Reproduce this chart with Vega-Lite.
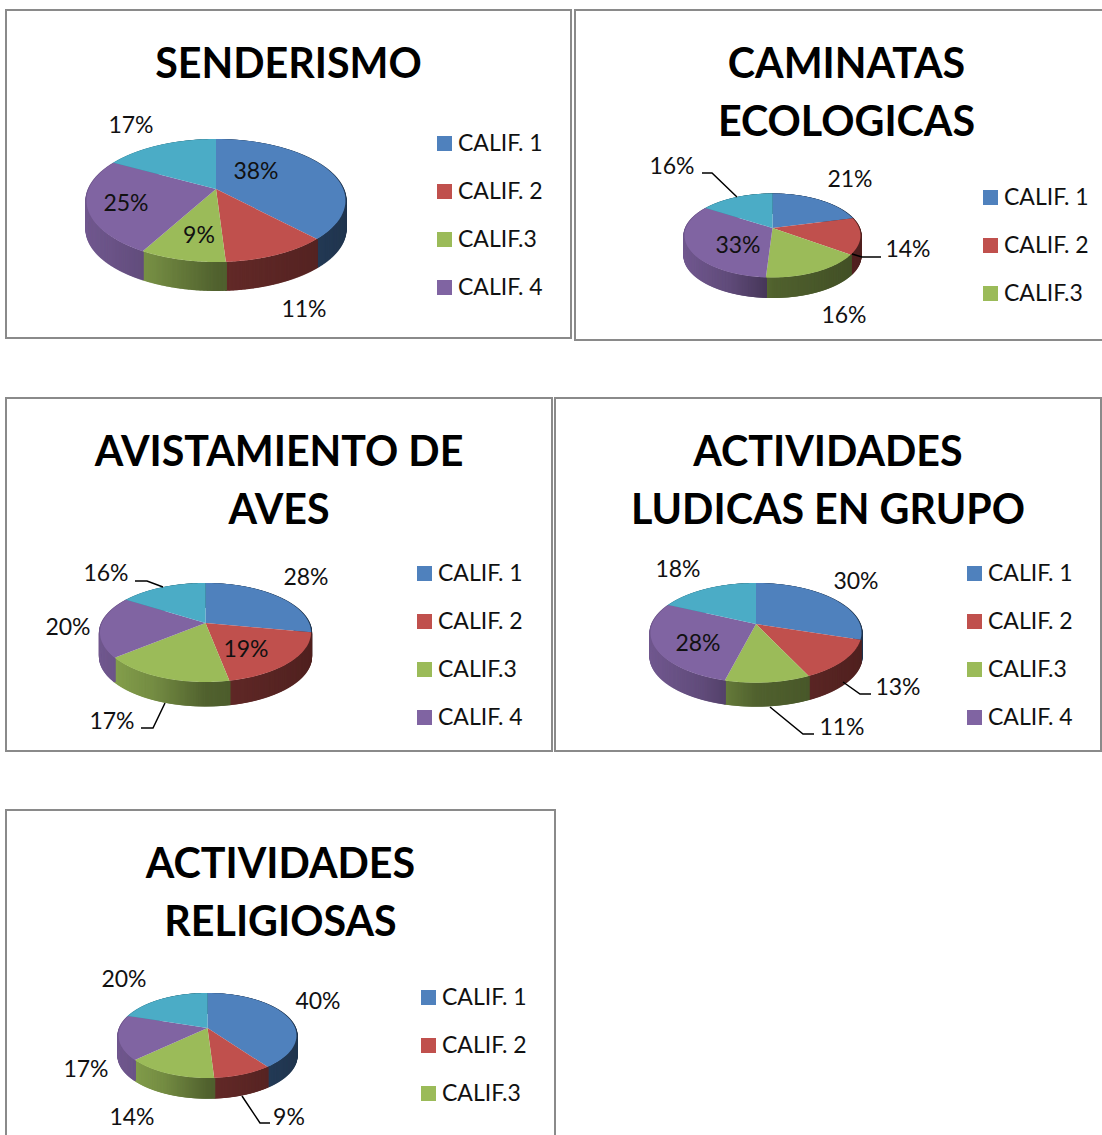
{"$schema":"https://vega.github.io/schema/vega-lite/v6.json","padding":{"left":5,"top":9,"right":0,"bottom":0},"background":"white","config":{"view":{"stroke":"#8a8a8a","strokeWidth":2},"legend":{"symbolType":"square","symbolSize":225,"symbolStrokeWidth":0,"labelFont":"Lato","labelFontSize":23,"labelColor":"#111","labelLimit":200,"rowPadding":24,"padding":0,"labelOffset":2,"title":null,"orient":"none"},"title":{"font":"Lato","fontSize":41.2,"fontWeight":"bold","color":"black","lineHeight":58,"anchor":"middle","frame":"group","baseline":"middle"},"text":{"font":"Lato"}},
"resolve":{"scale":{"fill":"independent"}},
"data":{"values":[
{"panel":"SENDERISMO","category":"CALIF. 1","order":1,"value":38},{"panel":"SENDERISMO","category":"CALIF. 2","order":2,"value":11},{"panel":"SENDERISMO","category":"CALIF.3","order":3,"value":9},{"panel":"SENDERISMO","category":"CALIF. 4","order":4,"value":25},{"panel":"SENDERISMO","category":"CALIF. 5","order":5,"value":17},
{"panel":"CAMINATAS","category":"CALIF. 1","order":1,"value":21},{"panel":"CAMINATAS","category":"CALIF. 2","order":2,"value":14},{"panel":"CAMINATAS","category":"CALIF.3","order":3,"value":16},{"panel":"CAMINATAS","category":"CALIF. 4","order":4,"value":33},{"panel":"CAMINATAS","category":"CALIF. 5","order":5,"value":16},
{"panel":"AVES","category":"CALIF. 1","order":1,"value":28},{"panel":"AVES","category":"CALIF. 2","order":2,"value":19},{"panel":"AVES","category":"CALIF.3","order":3,"value":17},{"panel":"AVES","category":"CALIF. 4","order":4,"value":20},{"panel":"AVES","category":"CALIF. 5","order":5,"value":16},
{"panel":"LUDICAS","category":"CALIF. 1","order":1,"value":30},{"panel":"LUDICAS","category":"CALIF. 2","order":2,"value":13},{"panel":"LUDICAS","category":"CALIF.3","order":3,"value":11},{"panel":"LUDICAS","category":"CALIF. 4","order":4,"value":28},{"panel":"LUDICAS","category":"CALIF. 5","order":5,"value":18},
{"panel":"RELIGIOSAS","category":"CALIF. 1","order":1,"value":40},{"panel":"RELIGIOSAS","category":"CALIF. 2","order":2,"value":9},{"panel":"RELIGIOSAS","category":"CALIF.3","order":3,"value":14},{"panel":"RELIGIOSAS","category":"CALIF. 4","order":4,"value":17},{"panel":"RELIGIOSAS","category":"CALIF. 5","order":5,"value":20}
]},
"transform":[
{"stack":"value","groupby":["panel"],"sort":[{"field":"order","order":"ascending"}],"as":["v0","v1"]},
{"calculate":"{'SENDERISMO':{W:129.5,t:50,f:73,h:29},'CAMINATAS':{W:88,t:34.5,f:49.5,h:20.5},'AVES':{W:105.5,t:40,f:59,h:24.5},'LUDICAS':{W:105.5,t:41,f:58.7,h:24},'RELIGIOSAS':{W:89,t:35,f:50,h:20.7}}[datum.panel]","as":"g"},
{"calculate":"(datum.g.f-datum.g.t)/(datum.g.f+datum.g.t)","as":"k"},
{"calculate":"datum.g.W*sqrt(1-datum.k*datum.k)","as":"A"},
{"calculate":"datum.g.t*(1+datum.k)","as":"B"},
{"calculate":"['wall','top','label','leader']","as":"kind"},
{"flatten":["kind"]},
{"calculate":"datum.kind=='wall'?sequence(datum.v0*3.6,datum.v1*3.6,0.5):datum.kind=='top'?sequence(-1,51):datum.kind=='label'?[0]:(({'CAMINATAS':{c5:[[0,-70.5,-55],[1,-60.5,-55],[2,-35.5,-31]],c2:[[0,79.5,26],[1,89.5,29],[2,108.5,29]]},'AVES':{c5:[[0,-70.5,-42],[1,-58.5,-42],[2,-42.5,-36]],c3:[[0,-64.5,105],[1,-52.5,105],[2,-40.5,80]]},'LUDICAS':{c2:[[0,87,58],[1,104,70],[2,115,70]],c3:[[0,14,83],[1,47,110],[2,58,110]]},'RELIGIOSAS':{c2:[[0,34.5,68],[1,52.5,95],[2,62.5,95]]}}[datum.panel]||{})['c'+datum.order]||[])","as":"s"},
{"flatten":["s"]},
{"calculate":"{'SENDERISMO':[[40,-18],[88,120],[-17,46],[-90,14],[-85,-64]],'CAMINATAS':[[77.5,-49],[135.5,21],[71.5,87],[-34.5,17],[-100.5,-62]],'AVES':[[100.5,-46],[40.5,26],[-93.5,98],[-137.5,4],[-99.5,-50]],'LUDICAS':[[100,-43],[142,63],[86,103],[-58,19],[-78,-55]],'RELIGIOSAS':[[110.5,-27],[81.5,89],[-75.5,89],[-121.5,41],[-83.5,-49]]}[datum.panel][datum.order-1]","as":"lab"},
{"calculate":"(datum.kind=='wall'?datum.s:datum.kind=='top'?(datum.v0+datum.s/50*(datum.v1-datum.v0))*3.6:0)*PI/180","as":"th"},
{"calculate":"1+datum.k*cos(datum.th)","as":"w"},
{"calculate":"datum.kind=='label'?datum.lab[0]:datum.kind=='leader'?datum.s[1]:(datum.kind=='top'&&datum.s<0)?0:datum.A*sin(datum.th)/datum.w","as":"X"},
{"calculate":"datum.kind=='label'?datum.lab[1]:datum.kind=='leader'?datum.s[2]:(datum.kind=='top'&&datum.s<0)?0:-datum.B*cos(datum.th)/datum.w","as":"Y"},
{"calculate":"datum.Y+datum.g.h","as":"Y2"},
{"calculate":"datum.kind=='leader'?datum.s[0]:datum.s","as":"ord"},
{"calculate":"datum.X/datum.g.W","as":"n"},
{"calculate":"datum.n<-0.5?0.88-(datum.n+1)*0.26:datum.n<0?0.75-(datum.n+0.5)*0.46:0.52-datum.n*0.1","as":"shade"},
{"calculate":"rgb({'CALIF. 1':'#4f81bd','CALIF. 2':'#c0504d','CALIF.3':'#9bbb59','CALIF. 4':'#8064a2','CALIF. 5':'#4bacc6'}[datum.category])","as":"base"},
{"calculate":"'rgb('+round(datum.base.r*datum.shade)+','+round(datum.base.g*datum.shade)+','+round(datum.base.b*datum.shade)+')'","as":"wallColor"},
{"calculate":"datum.value+'%'","as":"pct"}
],
"vconcat":[
{"resolve":{"scale":{"fill":"independent"}},"vconcat":[
{"resolve":{"scale":{"fill":"independent"}},"hconcat":[
{"title":{"text":"SENDERISMO","offset":-76},"width":565,"height":328,"transform":[{"filter":"datum.panel=='SENDERISMO'"}],
"encoding":{"x":{"field":"X","type":"quantitative","axis":null,"scale":{"domain":[-210,355],"nice":false,"zero":false}},"y":{"field":"Y","type":"quantitative","axis":null,"scale":{"domain":[149,-179],"nice":false,"zero":false}}},
"layer":[
{"transform":[{"filter":"datum.kind=='wall'"}],"mark":{"type":"rule","strokeWidth":2.2},"encoding":{"y2":{"field":"Y2"},"stroke":{"field":"wallColor","type":"nominal","scale":null}}},
{"transform":[{"filter":"datum.kind=='top'"}],"mark":{"type":"line","stroke":"transparent"},"encoding":{"order":{"field":"ord","type":"quantitative"},"fill":{"field":"category","type":"nominal","sort":null,"scale":{"domain":["CALIF. 1","CALIF. 2","CALIF.3","CALIF. 4","CALIF. 5"],"range":["#4f81bd","#c0504d","#9bbb59","#8064a2","#4bacc6"]},"legend":{"values":["CALIF. 1","CALIF. 2","CALIF.3","CALIF. 4"],"legendX":427,"legendY":122}}}},
{"transform":[{"filter":"datum.kind=='leader'"}],"mark":{"type":"line","stroke":"black","strokeWidth":1.5},"encoding":{"order":{"field":"ord","type":"quantitative"},"detail":{"field":"category"}}},
{"transform":[{"filter":"datum.kind=='label'"}],"mark":{"type":"text","fontSize":23,"dy":1,"color":"#111","align":"center","baseline":"middle"},"encoding":{"text":{"field":"pct"}}}
]},
{"title":{"text":["CAMINATAS","ECOLOGICAS"],"offset":-134,"dx":6.5},"width":530,"height":330,"transform":[{"filter":"datum.panel=='CAMINATAS'"}],
"encoding":{"x":{"field":"X","type":"quantitative","axis":null,"scale":{"domain":[-197.5,332.5],"nice":false,"zero":false}},"y":{"field":"Y","type":"quantitative","axis":null,"scale":{"domain":[112,-218],"nice":false,"zero":false}}},
"layer":[
{"transform":[{"filter":"datum.kind=='wall'"}],"mark":{"type":"rule","strokeWidth":2.2},"encoding":{"y2":{"field":"Y2"},"stroke":{"field":"wallColor","type":"nominal","scale":null}}},
{"transform":[{"filter":"datum.kind=='top'"}],"mark":{"type":"line","stroke":"transparent"},"encoding":{"order":{"field":"ord","type":"quantitative"},"fill":{"field":"category","type":"nominal","sort":null,"scale":{"domain":["CALIF. 1","CALIF. 2","CALIF.3","CALIF. 4","CALIF. 5"],"range":["#4f81bd","#c0504d","#9bbb59","#8064a2","#4bacc6"]},"legend":{"values":["CALIF. 1","CALIF. 2","CALIF.3"],"legendX":404,"legendY":176}}}},
{"transform":[{"filter":"datum.kind=='leader'"}],"mark":{"type":"line","stroke":"black","strokeWidth":1.5},"encoding":{"order":{"field":"ord","type":"quantitative"},"detail":{"field":"category"}}},
{"transform":[{"filter":"datum.kind=='label'"}],"mark":{"type":"text","fontSize":23,"dy":1,"color":"#111","align":"center","baseline":"middle"},"encoding":{"text":{"field":"pct"}}}
]}
],"spacing":2},
{"resolve":{"scale":{"fill":"independent"}},"hconcat":[
{"title":{"text":["AVISTAMIENTO DE","AVES"],"offset":-134},"width":546,"height":353,"transform":[{"filter":"datum.panel=='AVES'"}],
"encoding":{"x":{"field":"X","type":"quantitative","axis":null,"scale":{"domain":[-199.5,346.5],"nice":false,"zero":false}},"y":{"field":"Y","type":"quantitative","axis":null,"scale":{"domain":[128,-225],"nice":false,"zero":false}}},
"layer":[
{"transform":[{"filter":"datum.kind=='wall'"}],"mark":{"type":"rule","strokeWidth":2.2},"encoding":{"y2":{"field":"Y2"},"stroke":{"field":"wallColor","type":"nominal","scale":null}}},
{"transform":[{"filter":"datum.kind=='top'"}],"mark":{"type":"line","stroke":"transparent"},"encoding":{"order":{"field":"ord","type":"quantitative"},"fill":{"field":"category","type":"nominal","sort":null,"scale":{"domain":["CALIF. 1","CALIF. 2","CALIF.3","CALIF. 4","CALIF. 5"],"range":["#4f81bd","#c0504d","#9bbb59","#8064a2","#4bacc6"]},"legend":{"values":["CALIF. 1","CALIF. 2","CALIF.3","CALIF. 4"],"legendX":407,"legendY":164}}}},
{"transform":[{"filter":"datum.kind=='leader'"}],"mark":{"type":"line","stroke":"black","strokeWidth":1.5},"encoding":{"order":{"field":"ord","type":"quantitative"},"detail":{"field":"category"}}},
{"transform":[{"filter":"datum.kind=='label'"}],"mark":{"type":"text","fontSize":23,"dy":1,"color":"#111","align":"center","baseline":"middle"},"encoding":{"text":{"field":"pct"}}}
]},
{"title":{"text":["ACTIVIDADES","LUDICAS EN GRUPO"],"offset":-134},"width":546,"height":353,"transform":[{"filter":"datum.panel=='LUDICAS'"}],
"encoding":{"x":{"field":"X","type":"quantitative","axis":null,"scale":{"domain":[-201,345],"nice":false,"zero":false}},"y":{"field":"Y","type":"quantitative","axis":null,"scale":{"domain":[127,-226],"nice":false,"zero":false}}},
"layer":[
{"transform":[{"filter":"datum.kind=='wall'"}],"mark":{"type":"rule","strokeWidth":2.2},"encoding":{"y2":{"field":"Y2"},"stroke":{"field":"wallColor","type":"nominal","scale":null}}},
{"transform":[{"filter":"datum.kind=='top'"}],"mark":{"type":"line","stroke":"transparent"},"encoding":{"order":{"field":"ord","type":"quantitative"},"fill":{"field":"category","type":"nominal","sort":null,"scale":{"domain":["CALIF. 1","CALIF. 2","CALIF.3","CALIF. 4","CALIF. 5"],"range":["#4f81bd","#c0504d","#9bbb59","#8064a2","#4bacc6"]},"legend":{"values":["CALIF. 1","CALIF. 2","CALIF.3","CALIF. 4"],"legendX":408,"legendY":164}}}},
{"transform":[{"filter":"datum.kind=='leader'"}],"mark":{"type":"line","stroke":"black","strokeWidth":1.5},"encoding":{"order":{"field":"ord","type":"quantitative"},"detail":{"field":"category"}}},
{"transform":[{"filter":"datum.kind=='label'"}],"mark":{"type":"text","fontSize":23,"dy":1,"color":"#111","align":"center","baseline":"middle"},"encoding":{"text":{"field":"pct"}}}
]}
],"spacing":1}
],"spacing":56},
{"title":{"text":["ACTIVIDADES","RELIGIOSAS"],"offset":-134},"width":549,"height":330,"transform":[{"filter":"datum.panel=='RELIGIOSAS'"}],
"encoding":{"x":{"field":"X","type":"quantitative","axis":null,"scale":{"domain":[-201.5,347.5],"nice":false,"zero":false}},"y":{"field":"Y","type":"quantitative","axis":null,"scale":{"domain":[112,-218],"nice":false,"zero":false}}},
"layer":[
{"transform":[{"filter":"datum.kind=='wall'"}],"mark":{"type":"rule","strokeWidth":2.2},"encoding":{"y2":{"field":"Y2"},"stroke":{"field":"wallColor","type":"nominal","scale":null}}},
{"transform":[{"filter":"datum.kind=='top'"}],"mark":{"type":"line","stroke":"transparent"},"encoding":{"order":{"field":"ord","type":"quantitative"},"fill":{"field":"category","type":"nominal","sort":null,"scale":{"domain":["CALIF. 1","CALIF. 2","CALIF.3","CALIF. 4","CALIF. 5"],"range":["#4f81bd","#c0504d","#9bbb59","#8064a2","#4bacc6"]},"legend":{"values":["CALIF. 1","CALIF. 2","CALIF.3"],"legendX":411,"legendY":176}}}},
{"transform":[{"filter":"datum.kind=='leader'"}],"mark":{"type":"line","stroke":"black","strokeWidth":1.5},"encoding":{"order":{"field":"ord","type":"quantitative"},"detail":{"field":"category"}}},
{"transform":[{"filter":"datum.kind=='label'"}],"mark":{"type":"text","fontSize":23,"dy":1,"color":"#111","align":"center","baseline":"middle"},"encoding":{"text":{"field":"pct"}}}
]}
],"spacing":57}
